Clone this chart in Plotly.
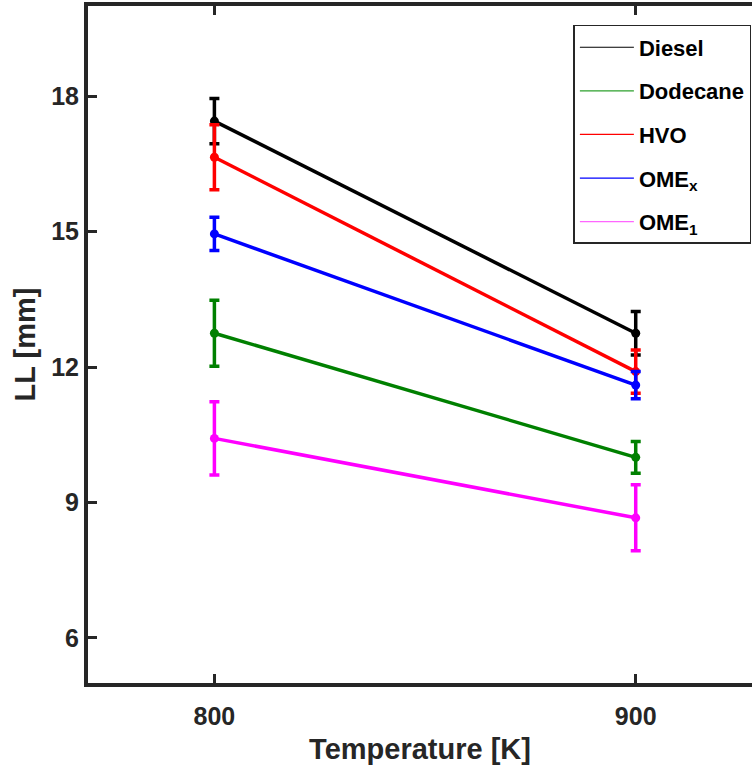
import plotly.graph_objects as go

temps = [800, 900]
series = ["Diesel", "Dodecane", "HVO", "OME<sub>x</sub>", "OME<sub>1</sub>"]
colors = ["#000000", "#008000", "#ff0000", "#0000ff", "#ff00ff"]
legend_colors = ["#000000", "#2ca02c", "#ff0000", "#0000ff", "#ff66ff"]
values = [
    [17.45, 12.75],
    [12.75, 10.00],
    [16.65, 11.90],
    [14.95, 11.60],
    [10.42, 8.66],
]
errors = [
    [0.50, 0.48],
    [0.73, 0.35],
    [0.72, 0.48],
    [0.37, 0.30],
    [0.81, 0.73],
]
y_ticks = [6, 9, 12, 15, 18]
x_ticks = [800, 900]

TXT = "#262626"
FONT = "Liberation Sans"

fig = go.Figure()
for name, col, v, e in zip(series, colors, values, errors):
    fig.add_trace(go.Scatter(
        x=temps, y=v, mode="lines+markers", showlegend=False,
        line=dict(color=col, width=3.5),
        marker=dict(color=col, size=9),
        error_y=dict(type="data", array=e, visible=True, color=col, thickness=3.5, width=5),
    ))
for i, (name, col) in enumerate(zip(series, legend_colors)):
    fig.add_trace(go.Scatter(
        x=[None], y=[None], mode="lines", name=name, legendgroup=f"g{i}",
        line=dict(color=col, width=1.2), showlegend=True,
    ))

xr = [770, 927.6]
fig.update_layout(
    width=752, height=765,
    margin=dict(l=88, r=0, t=6, b=82),
    paper_bgcolor="white", plot_bgcolor="white",
    font=dict(family=FONT, color=TXT),
    showlegend=True,
    legend=dict(
        x=0.731, y=0.972, xanchor="left", yanchor="top",
        bgcolor="white", bordercolor=TXT, borderwidth=1.5,
        font=dict(family=FONT, size=22, color="#000000", weight="bold"),
        tracegroupgap=12, itemwidth=54,
    ),
    xaxis=dict(
        range=xr, tickvals=x_ticks, ticks="inside", ticklen=9, tickwidth=3, tickcolor=TXT,
        showline=True, linewidth=4, linecolor=TXT, showgrid=False, zeroline=False,
        tickfont=dict(family=FONT, size=25, color=TXT, weight="bold"),
        ticklabelstandoff=8,
        title=dict(text="Temperature [K]", font=dict(family=FONT, size=29, color=TXT, weight="bold"), standoff=14),
    ),
    xaxis2=dict(
        range=xr, tickvals=x_ticks, ticks="inside", ticklen=9, tickwidth=3, tickcolor=TXT,
        overlaying="x", side="top", showticklabels=False,
        showline=True, linewidth=4, linecolor=TXT, showgrid=False, zeroline=False,
    ),
    yaxis=dict(
        range=[5, 20], tickvals=y_ticks, ticks="inside", ticklen=9, tickwidth=3, tickcolor=TXT,
        showline=True, linewidth=4, linecolor=TXT, showgrid=False, zeroline=False,
        tickfont=dict(family=FONT, size=25, color=TXT, weight="bold"),
        ticklabelstandoff=0,
        title=dict(text="LL [mm]", font=dict(family=FONT, size=29, color=TXT, weight="bold"), standoff=8),
    ),
)
fig.add_trace(go.Scatter(x=[None], y=[None], xaxis="x2", showlegend=False))
fig.write_html("out.html")
